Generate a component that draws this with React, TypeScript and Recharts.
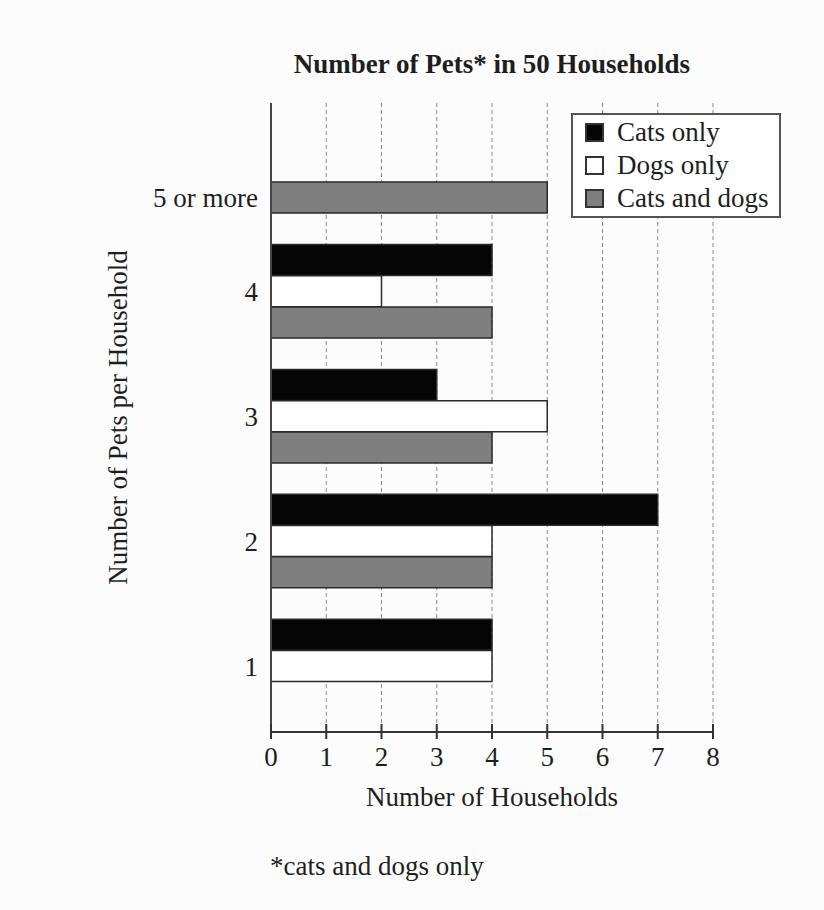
import React from 'react';
import { BarChart, Bar, Cell, XAxis, YAxis, CartesianGrid, Legend } from 'recharts';

const categories = ['1', '2', '3', '4', '5 or more'];
const catsOnly = [4, 7, 3, 4, 0];
const dogsOnly = [4, 4, 5, 2, 0];
const catsAndDogs = [0, 4, 4, 4, 5];
const seriesNames = ['Cats only', 'Dogs only', 'Cats and dogs'];
const seriesColors = ['#050505', '#ffffff', '#7f7f7f'];
const xTicks = [0, 1, 2, 3, 4, 5, 6, 7, 8];

const FONT = '"Liberation Serif", "Times New Roman", serif';
const INK = '#1e1e1e';

interface Row {
  key: string;
  label: string;
  value: number | null;
  series: number;
}

// one band per bar, groups top-down, a blank band between groups
const rows: Row[] = [];
for (let i = categories.length - 1; i >= 0; i--) {
  const vals = [catsOnly[i], dogsOnly[i], catsAndDogs[i]];
  const first = vals.findIndex(v => v > 0);
  const count = vals.length - first;
  if (rows.length) rows.push({ key: `gap-${i}`, label: '', value: null, series: -1 });
  for (let s = first; s < vals.length; s++) {
    rows.push({
      key: `${categories[i]}-${s}`,
      label: s - first === Math.floor(count / 2) ? categories[i] : '',
      value: vals[s] > 0 ? vals[s] : null,
      series: s,
    });
  }
}

const textStyle = { fontFamily: FONT, fontSize: 27, fill: INK };

const YTick = (props: any) => {
  const { x, y, payload } = props;
  const row = rows.find(r => r.key === payload.value);
  if (!row || !row.label) return <g />;
  return (
    <text x={x - 13} y={y} dy="0.35em" textAnchor="end" {...textStyle}>
      {row.label}
    </text>
  );
};

const XTick = (props: any) => {
  const { x, y, payload } = props;
  return (
    <g>
      <line x1={x} x2={x} y1={y - 8} y2={y + 7} stroke="#333" strokeWidth={2} />
      <text x={x} y={y + 34} textAnchor="middle" {...textStyle}>
        {payload.value}
      </text>
    </g>
  );
};

const LegendBox = () => (
  <div
    style={{
      border: '2px solid #555',
      background: '#fff',
      padding: '1px 0 1px 12px',
      boxSizing: 'border-box',
      width: '100%',
      fontFamily: FONT,
      fontSize: 27,
      color: INK,
    }}
  >
    {seriesNames.map((n, i) => (
      <div key={n} style={{ display: 'flex', alignItems: 'center', height: 33 }}>
        <span
          style={{
            width: 19,
            height: 19,
            background: seriesColors[i],
            border: '2px solid #333',
            boxSizing: 'border-box',
            marginRight: 13,
          }}
        />
        <span style={{ lineHeight: '33px' }}>{n}</span>
      </div>
    ))}
  </div>
);

export default function App() {
  return (
    <div
      style={{
        position: 'absolute',
        left: 0,
        top: 0,
        width: 824,
        height: 910,
        background: '#fcfcfc',
        fontFamily: FONT,
      }}
    >
      <div
        style={{
          position: 'absolute',
          left: 271,
          top: 51,
          width: 442,
          textAlign: 'center',
          fontSize: 27,
          fontWeight: 'bold',
          lineHeight: '27px',
          color: INK,
        }}
      >
        Number of Pets* in 50 Households
      </div>
      <BarChart
        width={824}
        height={910}
        layout="vertical"
        data={rows}
        margin={{ top: 103, right: 111, bottom: 98, left: 101 }}
        barCategoryGap={0}
      >
        <CartesianGrid horizontal={false} stroke="#8c8c8c" strokeDasharray="4 3" />
        <XAxis
          type="number"
          domain={[0, 8]}
          ticks={xTicks}
          interval={0}
          height={80}
          axisLine={{ stroke: '#333', strokeWidth: 2 }}
          tickLine={false}
          tickSize={0}
          tickMargin={0}
          tick={<XTick />}
          label={{
            value: 'Number of Households',
            position: 'insideBottom',
            offset: 6,
            fill: INK,
            style: { fontFamily: FONT, fontSize: 27 },
          }}
        />
        <YAxis
          type="category"
          dataKey="key"
          width={170}
          interval={0}
          axisLine={{ stroke: '#444', strokeWidth: 2 }}
          tickLine={false}
          tickSize={0}
          tickMargin={0}
          tick={<YTick />}
          padding={{ top: 79, bottom: 19 }}
          label={{
            value: 'Number of Pets per Household',
            angle: -90,
            position: 'insideLeft',
            offset: 16,
            fill: INK,
            style: { fontFamily: FONT, fontSize: 27, textAnchor: 'middle' },
          }}
        />
        <Bar dataKey="value" stroke="#2a2a2a" strokeWidth={1.5} isAnimationActive={false}>
          {rows.map(r => (
            <Cell key={r.key} fill={r.series >= 0 ? seriesColors[r.series] : 'none'} />
          ))}
        </Bar>
        <Legend
          layout="horizontal"
          align="center"
          verticalAlign="middle"
          content={<LegendBox />}
          wrapperStyle={{ left: 571, top: 113, width: 210 }}
        />
      </BarChart>
      <div
        style={{
          position: 'absolute',
          left: 270,
          top: 853,
          fontSize: 27,
          lineHeight: '27px',
          color: INK,
        }}
      >
        *cats and dogs only
      </div>
    </div>
  );
}
